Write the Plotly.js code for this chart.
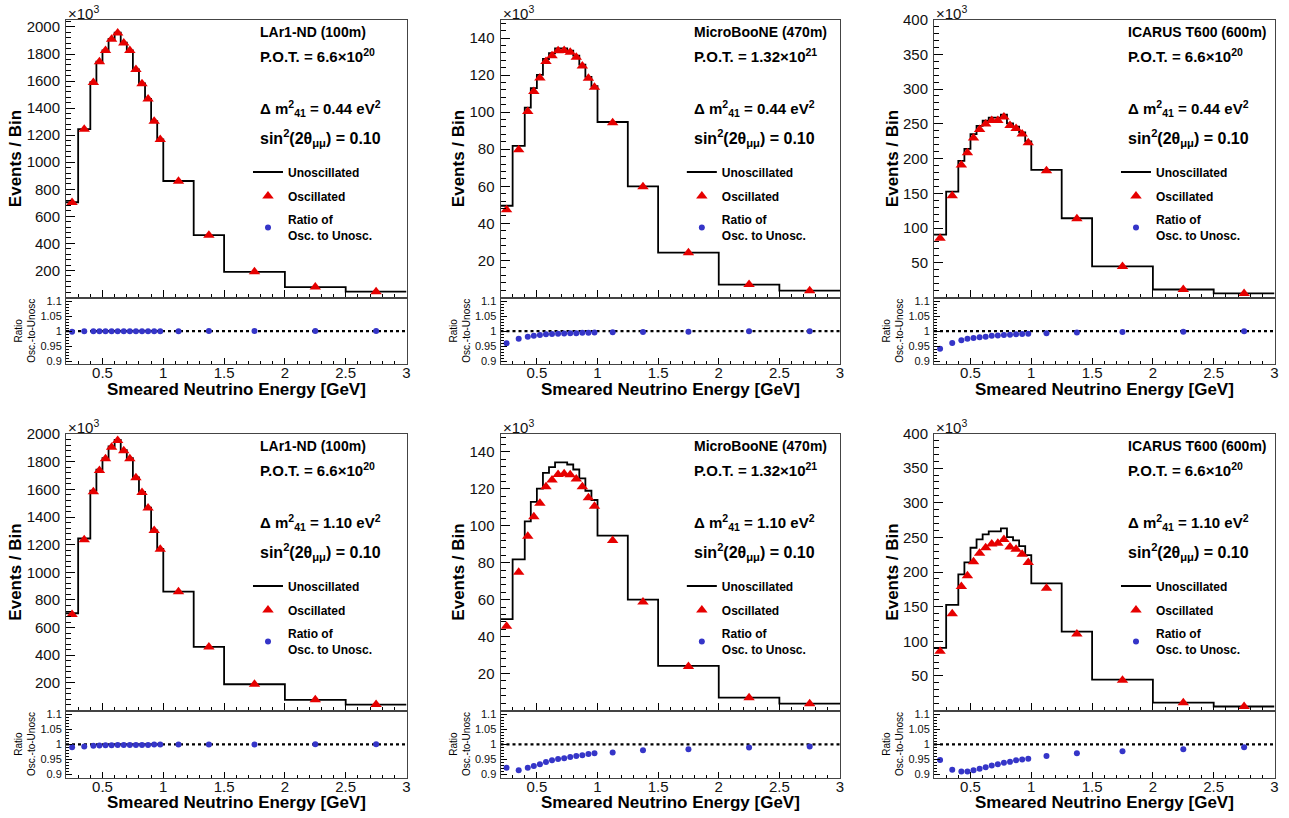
<!DOCTYPE html>
<html><head><meta charset="utf-8">
<script src="https://cdn.plot.ly/plotly-3.0.1.min.js"></script>
<style>html,body{margin:0;padding:0;background:#fff}#chart{width:1289px;height:818px}</style>
</head><body><div id="chart"></div><script>
// ---------------- data ----------------
const binEdges = [0.2,0.3,0.4,0.45,0.5,0.55,0.6,0.65,0.7,0.75,0.8,0.85,0.9,0.95,1.0,1.25,1.5,2.0,2.5,3.0];

// events per bin, in units of 10^3
const unoscLAr1ND   = [704,1245,1591,1744,1827,1911,1958,1884,1827,1687,1582,1468,1304,1169,861,461,190,77,43];
const unoscMicroBooNE = [49.5,81.8,102.4,113,120.1,128.7,131.8,134.4,134.4,133.2,130.5,125.7,119,114,94.7,60,24.2,7.0,3.7];
const unoscICARUS   = [90.4,152.4,196.6,213.9,235,247,254.3,258.7,258.7,263,250.5,245.7,237.5,224.5,183.7,114,44.7,11.5,5.8];

const oscLAr1ND_044   = [703,1244,1589,1742,1825,1909,1956,1882,1825,1685,1580,1467,1303,1168,860,461,190,77,43];
const oscMicroBooNE_044 = [47.4,79.7,100.4,111.2,118.5,127.3,130.5,133.2,133.3,132.3,129.6,124.9,118.3,113.4,94.3,59.8,24.2,7.0,3.7];
const oscICARUS_044   = [85.1,146.3,190.5,208.3,229.6,241.8,249.5,254.5,254.8,259.6,247.5,243.0,235.1,222.5,182.4,113.4,44.6,11.5,5.8];
const oscLAr1ND_110   = [695,1236,1583,1737,1822,1906,1954,1880,1823,1684,1578,1465,1302,1168,860,460,190,77,43];
const oscMicroBooNE_110 = [45.6,74.8,94.4,104.9,112.2,121.1,124.8,127.8,128.2,127.6,125.4,121.2,115.2,110.6,92.1,58.8,23.8,6.9,3.7];
const oscICARUS_110   = [85.7,139.6,178.9,194.6,214.8,227.0,235.0,240.6,241.6,247.0,236.0,232.7,225.6,213.7,176.5,110.6,43.7,11.3,5.7];

const ratioLAr1ND_044   = [0.998,0.999,0.999,0.999,0.999,0.999,0.999,0.999,0.999,0.999,0.999,0.999,0.999,0.999,0.999,1.0,1.0,1.0,1.0];
const ratioMicroBooNE_044 = [0.959,0.974,0.981,0.984,0.987,0.989,0.990,0.991,0.992,0.993,0.993,0.994,0.994,0.995,0.996,0.997,0.998,0.999,0.999];
const ratioICARUS_044   = [0.941,0.960,0.969,0.974,0.977,0.979,0.981,0.984,0.985,0.987,0.988,0.989,0.990,0.991,0.993,0.995,0.997,0.998,0.999];
const ratioLAr1ND_110   = [0.990,0.993,0.995,0.996,0.997,0.997,0.998,0.998,0.998,0.998,0.998,0.998,0.999,0.999,0.999,0.999,0.999,1.0,1.0];
const ratioMicroBooNE_110 = [0.922,0.914,0.922,0.928,0.934,0.941,0.947,0.951,0.954,0.958,0.961,0.964,0.968,0.970,0.973,0.980,0.984,0.989,0.993];
const ratioICARUS_110   = [0.948,0.916,0.910,0.910,0.914,0.919,0.924,0.930,0.934,0.939,0.942,0.947,0.950,0.952,0.961,0.970,0.977,0.984,0.990];

const detectorNames = ['LAr1-ND (100m)','MicroBooNE (470m)','ICARUS T600 (600m)'];
const potTexts = ['6.6×10<sup>20</sup>','1.32×10<sup>21</sup>','6.6×10<sup>20</sup>'];
const dm2Values = ['0.44','1.10'];
const sin2Value = '0.10';
const xTitle = 'Smeared Neutrino Energy [GeV]';

const yTicksLAr1ND = [200,400,600,800,1000,1200,1400,1600,1800,2000];
const yTicksMicroBooNE = [20,40,60,80,100,120,140];
const yTicksICARUS = [50,100,150,200,250,300,350,400];
const ratioTicks = [0.9,0.95,1,1.05,1.1];
const xTicks = [0.5,1,1.5,2,2.5,3];
const xRange = [0.2,3.0];
const ratioReference = 1;

// ---------------- layout geometry (px) ----------------
const W = 1289, H = 818;
const cols = [[66,406.5],[500.5,840],[934,1274.5]];
const rows = [{mainTop:19.5, split:297.5, ratioBot:364},{mainTop:433.5, split:710.5, ratioBot:777.5}];
const yTopByPanel = [[2055,150,400],[2005,150,400]];
const yMinorStep = [40,4,10];
const yTickSets = [yTicksLAr1ND,yTicksMicroBooNE,yTicksICARUS];

const panels = [
  {row:0,col:0,unosc:unoscLAr1ND,osc:oscLAr1ND_044,ratio:ratioLAr1ND_044},
  {row:0,col:1,unosc:unoscMicroBooNE,osc:oscMicroBooNE_044,ratio:ratioMicroBooNE_044},
  {row:0,col:2,unosc:unoscICARUS,osc:oscICARUS_044,ratio:ratioICARUS_044},
  {row:1,col:0,unosc:unoscLAr1ND,osc:oscLAr1ND_110,ratio:ratioLAr1ND_110},
  {row:1,col:1,unosc:unoscMicroBooNE,osc:oscMicroBooNE_110,ratio:ratioMicroBooNE_110},
  {row:1,col:2,unosc:unoscICARUS,osc:oscICARUS_110,ratio:ratioICARUS_110},
];

const FONT = 'Liberation Sans, Arial, Helvetica, sans-serif';
const frameColor = '#444';
const centers = binEdges.slice(0,-1).map((e,i)=>(e+binEdges[i+1])/2);

const px2x = p => p/W;
const px2y = p => 1 - p/H;

const traces = [];
const layout = {
  width:W, height:H, margin:{l:0,r:0,t:0,b:0},
  paper_bgcolor:'#fff', plot_bgcolor:'#fff',
  font:{family:FONT, color:'#000', size:12},
  annotations:[], shapes:[]
};

panels.forEach((p,i)=>{
  const mi = 2*i+1, ri = 2*i+2;
  const mx = 'x'+mi, my = 'y'+mi, rx = 'x'+ri, ry = 'y'+ri;
  const legendId = i===0 ? 'legend' : 'legend'+(i+1);
  const c = cols[p.col], r = rows[p.row];
  const xDom = [px2x(c[0]), px2x(c[1])];

  traces.push({
    x: binEdges, y: p.unosc.concat([p.unosc[p.unosc.length-1]]),
    xaxis:mx, yaxis:my, mode:'lines', line:{shape:'hv', color:'#000', width:1.8},
    name:'Unoscillated', legend:legendId, legendgroup:'u'+i, hoverinfo:'skip'
  });
  traces.push({
    x: centers, y: p.osc, xaxis:mx, yaxis:my, mode:'markers',
    marker:{symbol:'triangle-up', size:10, color:'#e60000'},
    name:'Oscillated', legend:legendId, legendgroup:'o'+i
  });
  traces.push({
    x: xRange, y:[ratioReference, ratioReference], xaxis:rx, yaxis:ry, mode:'lines',
    line:{color:'#000', width:2.2, dash:'dot'}, showlegend:false, hoverinfo:'skip'
  });
  traces.push({
    x: centers, y: p.ratio, xaxis:rx, yaxis:ry, mode:'markers',
    marker:{symbol:'circle', size:6, color:'#3535c8'},
    name:'Ratio of<br>Osc. to Unosc.', legend:legendId, legendgroup:'r'+i
  });

  const common = {showgrid:false, zeroline:false, showline:true, mirror:true,
    linecolor:frameColor, linewidth:1, ticks:'inside', tickcolor:'#000'};

  layout['xaxis'+mi] = Object.assign({}, common, {
    domain:xDom, anchor:my, range:xRange, tickvals:xTicks, showticklabels:false,
    ticklen:8, minor:{dtick:0.1, tick0:0, ticks:'inside', ticklen:4, tickcolor:'#000'},
    matches:rx
  });
  layout['yaxis'+mi] = Object.assign({}, common, {
    domain:[px2y(r.split), px2y(r.mainTop)], anchor:mx,
    range:[0, yTopByPanel[p.row][p.col]], tickvals:yTickSets[p.col],
    ticklen:9, minor:{dtick:yMinorStep[p.col], tick0:0, ticks:'inside', ticklen:5, tickcolor:'#000'},
    tickfont:{size:15, family:FONT, color:'#111'}, ticklabelstandoff:2,
    title:{text:'Events / Bin', font:{size:17, family:FONT, weight:'bold', color:'#000'}, standoff:0}
  });
  layout['xaxis'+ri] = Object.assign({}, common, {
    domain:xDom, anchor:ry, range:xRange, tickvals:xTicks,
    ticklen:6, minor:{dtick:0.1, tick0:0, ticks:'inside', ticklen:3, tickcolor:'#000'},
    tickfont:{size:15, family:FONT, color:'#111'}, ticklabelstandoff:-5
  });
  layout['yaxis'+ri] = Object.assign({}, common, {
    domain:[px2y(r.ratioBot), px2y(r.split)], anchor:rx,
    range:[0.89, 1.112], tickvals:ratioTicks,
    ticklen:6, minor:{dtick:0.01, tick0:0, ticks:'inside', ticklen:3, tickcolor:'#000'},
    tickfont:{size:11, family:FONT, color:'#111'}, ticklabelstandoff:1,
    title:{text:'Ratio<br>Osc.-to-Unosc', font:{size:10, family:FONT, color:'#000'}, standoff:2}
  });

  // x-axis title under the ratio panel
  layout.annotations.push({xref:rx+' domain', yref:'paper', x:0.5, y:px2y(r.ratioBot + 25),
    xanchor:'center', yanchor:'middle', showarrow:false, text:xTitle,
    font:{size:17, family:FONT, weight:'bold', color:'#000'}});
  // ×10^3
  layout.annotations.push({xref:mx+' domain', yref:'paper', x:0, y:px2y(r.mainTop-7),
    xanchor:'left', yanchor:'middle', showarrow:false, text:'×10<sup>3</sup>',
    font:{size:15, family:FONT, color:'#111'}});
  const txt = (yPix, text, size) => layout.annotations.push({
    xref:mx+' domain', yref:'paper', x:0.563, y:px2y(r.mainTop + yPix), xanchor:'left', yanchor:'middle',
    showarrow:false, text:text, font:{size:size, family:FONT, weight:'bold', color:'#000'}});
  txt(12.5, detectorNames[p.col], 14);
  txt(36, 'P.O.T. = '+potTexts[p.col], 15);
  txt(88.5, 'Δ m<sup>2</sup><sub>41</sub> = '+dm2Values[p.row]+' eV<sup>2</sup>', 15);
  txt(118.5, 'sin<sup>2</sup>(2θ<sub>μμ</sub>) = '+sin2Value, 16);

  const legendTextLeft = c[0] + 0.649*(c[1]-c[0]);
  layout[legendId] = {
    x: px2x(legendTextLeft - 39), y: px2y(r.mainTop + 138), xanchor:'left', yanchor:'top',
    bgcolor:'rgba(0,0,0,0)', borderwidth:0, tracegroupgap:5, traceorder:'grouped',
    font:{size:12, family:FONT, weight:'bold', color:'#000'}
  };
});

Plotly.newPlot('chart', traces, layout, {staticPlot:true, displayModeBar:false});
</script></body></html>
